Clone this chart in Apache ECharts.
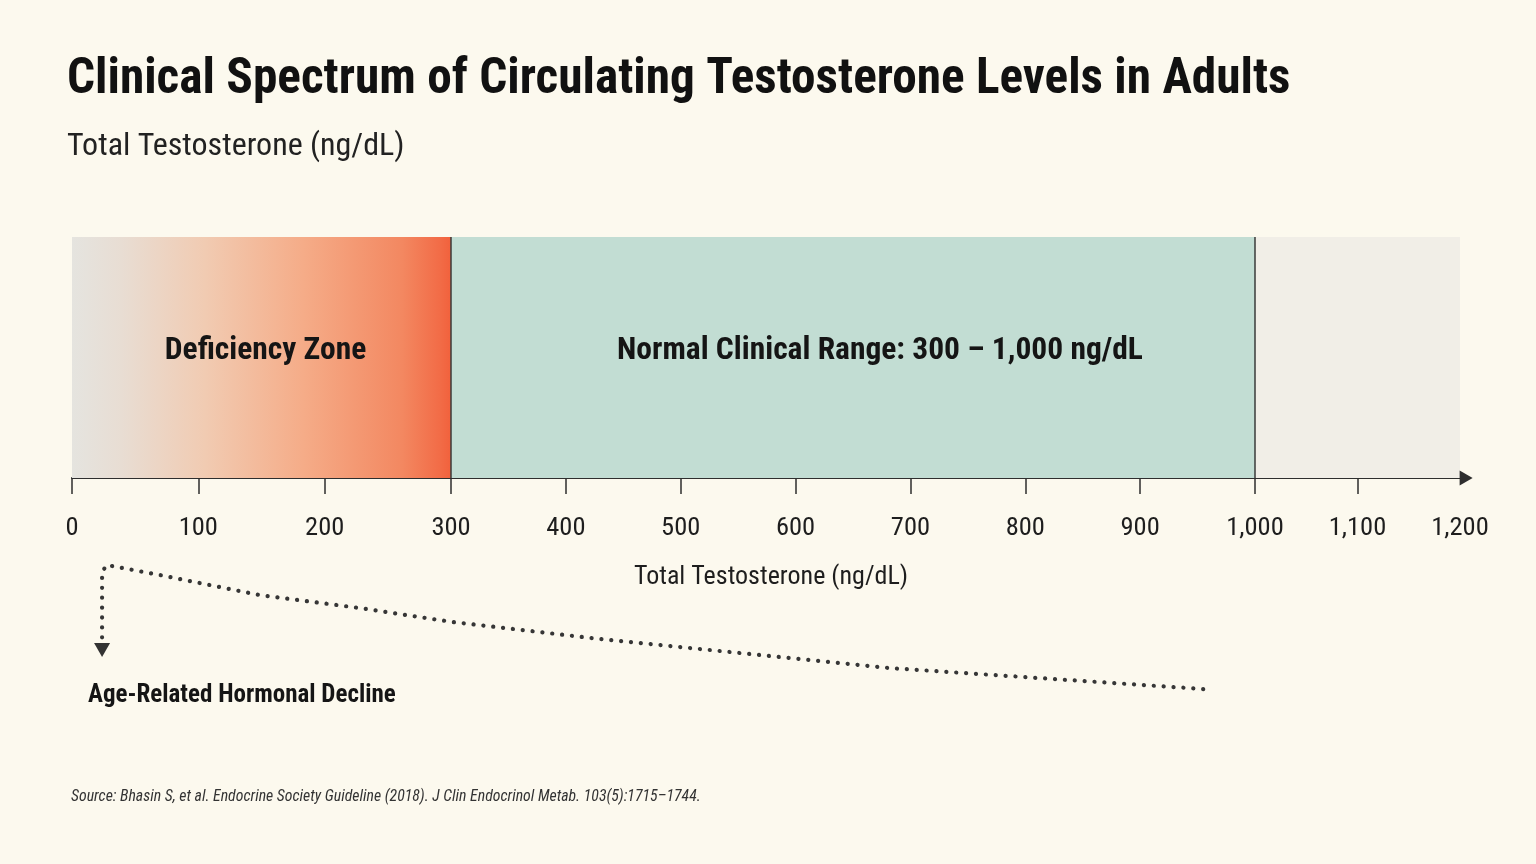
<!DOCTYPE html>
<html>
<head>
<meta charset="utf-8">
<script src="https://cdn.jsdelivr.net/npm/echarts@6/dist/echarts.min.js"></script>
<style>
html,body{margin:0;padding:0;background:#FCF9EE;}
#chart{width:1536px;height:864px;}
</style>
</head>
<body>
<div id="chart"></div>
<script>
// ---- data ----
const zoneBounds = [0, 300, 1000, 1200];           // ng/dL boundaries
const zoneNames = ['Deficiency Zone', 'Normal Clinical Range: 300 \u2013 1,000 ng/dL', ''];
const tickStep = 100;
const lastSegTicks = [1000, 1100];                   // no tick under the arrow at 1,200
const axisArrow = [1206, 0];                         // arrow head just past the axis end
const declineX = [978, 707, 456, 329, 249, 162, 76, 30, 26, 26];   // hidden linear scale (0-1200)
const declineY = [7.3, 21.3, 40.7, 52, 61.3, 70, 83.3, 90, 85.3, 39];  // relative level (0-100)
const arrowPoint = [26, 33.3];

const FONT = "'Roboto Condensed','Liberation Sans Narrow','DejaVu Sans Condensed',Roboto,sans-serif";
const fmt = v => Number(v).toLocaleString('en-US');

const chart = echarts.init(document.getElementById('chart'));

// piecewise layout of the axis: three grids (0-300, 300-1000, 1000-1200)
const segPx = [[72, 451], [451, 1255], [1255, 1460]];
const grids = segPx.map(s => ({left: s[0], width: s[1] - s[0], top: 237, height: 241}));
grids.push({left: 72, width: 1388, top: 550, height: 150});

const tickStyle = {show: true, length: 16, lineStyle: {color: '#2e2e2e', width: 1.5}};
const axisCommon = {
  type: 'value', interval: tickStep,
  axisLine: {show: true, lineStyle: {color: '#2e2e2e', width: 2}},
  axisTick: tickStyle,
  axisLabel: {color: '#1e1e1e', fontSize: 26.5, fontFamily: FONT, margin: 37, formatter: fmt},
  splitLine: {show: false}
};
const xAxes = [0, 1, 2].map(i => Object.assign({}, axisCommon, {
  gridIndex: i, min: zoneBounds[i], max: zoneBounds[i + 1],
  axisLabel: Object.assign({}, axisCommon.axisLabel, {
    showMaxLabel: i !== 0, showMinLabel: i !== 2
  }),
  axisTick: i === 2 ? Object.assign({}, tickStyle, {customValues: lastSegTicks}) : tickStyle
}));
xAxes.push({type: 'value', gridIndex: 3, min: 0, max: 1200, show: false});
const yAxes = [0, 1, 2].map(i => ({type: 'value', gridIndex: i, min: 0, max: 1, show: false}));
yAxes.push({type: 'value', gridIndex: 3, min: 0, max: 100, show: false});

const zoneColors = [
  new echarts.graphic.LinearGradient(0, 0, 1, 0, [
    {offset: 0, color: '#E5E4DF'}, {offset: 0.13, color: '#E8DDD3'},
    {offset: 0.35, color: '#F1CBB2'}, {offset: 0.61, color: '#F5AC88'},
    {offset: 0.87, color: '#F38861'}, {offset: 0.97, color: '#F26C47'},
    {offset: 1, color: '#F2613C'}]),
  '#C2DDD3',
  '#F1EEE7'
];
const labelOffsets = [[4, -6], [27, -6], [0, 0]];

const series = [0, 1, 2].map(i => ({
  type: 'line', xAxisIndex: i, yAxisIndex: i, data: [], silent: true,
  markArea: {
    silent: true,
    itemStyle: {color: zoneColors[i]},
    label: {show: !!zoneNames[i], position: 'inside', offset: labelOffsets[i], color: '#151515',
      fontSize: 31.5, fontWeight: 'bold', fontFamily: FONT},
    data: [[{xAxis: zoneBounds[i], name: zoneNames[i]}, {xAxis: zoneBounds[i + 1]}]]
  }
}));
series[1].markLine = {
  silent: true, symbol: 'none', label: {show: false},
  lineStyle: {color: '#3a3a3a', width: 1.5, type: 'solid'},
  data: [{xAxis: zoneBounds[1]}, {xAxis: zoneBounds[2]}]
};
series.push({
  type: 'scatter', xAxisIndex: 2, yAxisIndex: 2, silent: true, clip: false,
  data: [axisArrow], symbol: 'triangle', symbolRotate: -90, symbolSize: [15, 13],
  itemStyle: {color: '#2e2e2e', opacity: 1}
});
series.push({
  type: 'line', xAxisIndex: 3, yAxisIndex: 3, silent: true, symbol: 'none',
  data: declineX.map((x, i) => [x, declineY[i]]),
  lineStyle: {color: '#363636', width: 4.2, type: [0.1, 9.8], cap: 'round'}
});
series.push({
  type: 'scatter', xAxisIndex: 3, yAxisIndex: 3, silent: true,
  data: [arrowPoint], symbol: 'triangle', symbolRotate: 180, symbolSize: [16, 14],
  itemStyle: {color: '#333', opacity: 1}
});

const T = (text, left, top, style, extra) => Object.assign({
  text, left, top, padding: 0,
  textStyle: Object.assign({fontFamily: FONT, fontWeight: 'normal'}, style)
}, extra || {});

chart.setOption({
  backgroundColor: '#FCF9EE',
  animation: false,
  title: [
    T('Clinical Spectrum of Circulating Testosterone Levels in Adults', 67, 56,
      {fontSize: 49.3, fontWeight: 'bold', color: '#111'}),
    T('Total Testosterone (ng/dL)', 67, 131, {fontSize: 32, color: '#222'}),
    T('Total Testosterone (ng/dL)', 771, 564, {fontSize: 26, color: '#1e1e1e'}, {textAlign: 'center'}),
    T('Age-Related Hormonal Decline', 88, 683, {fontSize: 25, fontWeight: 'bold', color: '#151515'}),
    T('Source: Bhasin S, et al. Endocrine Society Guideline (2018). J Clin Endocrinol Metab. 103(5):1715\u20131744.',
      71, 789, {fontSize: 15.8, fontStyle: 'italic', color: '#333'})
  ],
  grid: grids,
  xAxis: xAxes,
  yAxis: yAxes,
  series: series
});
</script>
</body>
</html>
